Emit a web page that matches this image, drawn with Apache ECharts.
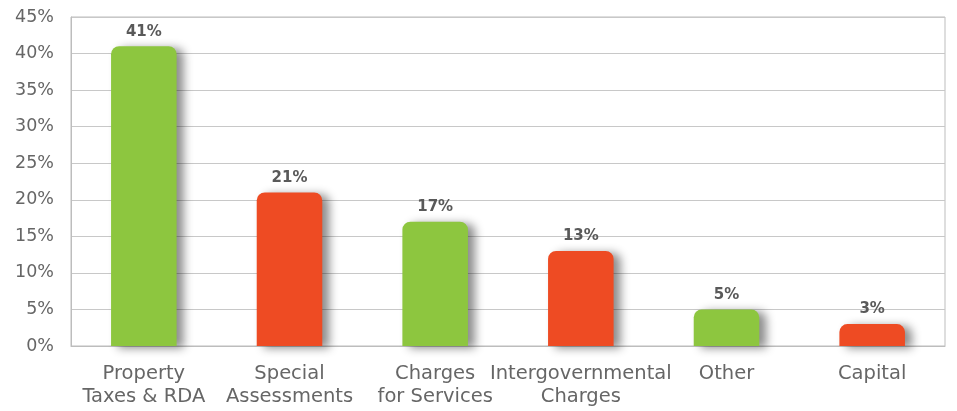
<!DOCTYPE html>
<html><head><meta charset="utf-8">
<script src="https://cdn.jsdelivr.net/npm/echarts@6/dist/echarts.min.js"></script>
<style>html,body{margin:0;padding:0;background:#fff}#c{width:957px;height:411px}</style>
</head><body><div id="c"></div>
<script>
var categories = ["Property\nTaxes & RDA", "Special\nAssessments", "Charges\nfor Services", "Intergovernmental\nCharges", "Other", "Capital"];
var values = [41, 21, 17, 13, 5, 3];
var colors = ["#8DC63F", "#EE4B23", "#8DC63F", "#EE4B23", "#8DC63F", "#EE4B23"];
var font = "'DejaVu Sans', sans-serif";
var chart = echarts.init(document.getElementById('c'));
chart.setOption({
  animation: false,
  grid: {left: 71, right: 12, top: 17, bottom: 65, show: true, borderColor: '#bdbdbd', borderWidth: 1},
  xAxis: {
    type: 'category', data: categories,
    axisLine: {lineStyle: {color: '#bdbdbd'}}, axisTick: {show: false},
    axisLabel: {color: '#666666', fontFamily: font, fontSize: 19.5, lineHeight: 23, margin: 16, interval: 0, verticalAlign: 'top'}
  },
  yAxis: {
    type: 'value', min: 0, max: 45, interval: 5,
    axisLine: {show: true, lineStyle: {color: '#bdbdbd'}},
    splitLine: {lineStyle: {color: '#c8c8c8'}},
    axisLabel: {formatter: '{value}%', color: '#666666', fontFamily: font, fontSize: 17.5, margin: 17}
  },
  series: [{
    type: 'bar', barWidth: '45%',
    data: values.map(function(v, i){ return {value: v, itemStyle: {color: colors[i]}}; }),
    itemStyle: {borderRadius: [8, 8, 0, 0], shadowColor: 'rgba(0,0,0,0.45)', shadowBlur: 10, shadowOffsetX: 7, shadowOffsetY: 2},
    label: {show: true, position: 'top', formatter: '{c}%', color: '#595959', fontFamily: font, fontWeight: 'bold', fontSize: 15, distance: 7}
  }]
});
</script></body></html>
